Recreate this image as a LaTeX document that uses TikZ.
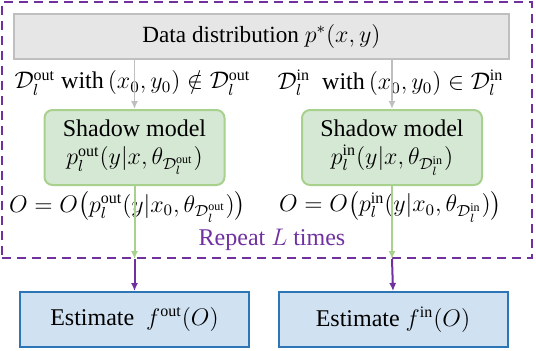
\documentclass[tikz,border=0pt]{standalone}
\usepackage{amsmath}
\usepackage{amssymb}
\usepackage{fontspec}
\setmainfont{Liberation Serif}
\usepackage{tikz}
\usetikzlibrary{
	arrows.meta,
	positioning,
	calc
}
\usepackage{xcolor}
\definecolor{framepurple}{HTML}{7030A0}
\definecolor{boxgray}{HTML}{E6E6E6}
\definecolor{edgegray}{HTML}{BFBFBF}
\definecolor{shadowfill}{HTML}{D5E8D4}
\definecolor{shadowedge}{HTML}{A9D18E}
\definecolor{estfill}{HTML}{D0E1F2}
\definecolor{estedge}{HTML}{2E75B6}

\begin{document}
\begin{tikzpicture}[x=0.5pt,y=0.5pt,>={Latex[length=4pt,width=3.6pt]},
		shadowbox/.style={draw=shadowedge,fill=shadowfill,line width=1pt,rounded corners=4pt,
			minimum width=90pt,minimum height=37.5pt,align=center,inner sep=1pt},
		estbox/.style={draw=estedge,fill=estfill,line width=1pt,
			minimum width=114.5pt,minimum height=27.5pt}]
		\fontsize{12}{14}\selectfont
		
		\useasboundingbox (0,0) rectangle (536,350);
		
		%---------------- Repeat frame ----------------%
		
		\node[draw=framepurple,line width=1pt,dash pattern=on 4.5pt off 3pt,
		minimum width=265pt,minimum height=128pt] (frame) at (267,220) {};
		
		\node[draw=edgegray,fill=boxgray,line width=1.2pt,minimum width=247.5pt,minimum height=22.5pt,
		font=\fontsize{11.6}{13}\selectfont] (dist) at (261.5,313.5)
		{Data distribution $p^{*}(x,y)$};
		
		\node (lblout) at (132.5,267)
		{$\mathcal{D}_l^{\mathrm{out}}\ \mathrm{with}\,(x_0,y_0)\notin\mathcal{D}_l^{\mathrm{out}}$};
		\node (lblin) at (390.5,267)
		{$\mathcal{D}_l^{\mathrm{in}}\ \ \mathrm{with}\,(x_0,y_0)\in\mathcal{D}_l^{\mathrm{in}}$};
		
		\node[shadowbox] (shout) at (134.5,202.5)
		{Shadow model\\ $p_l^{\mathrm{out}}(y|x,\theta_{\mathcal{D}_l^{\mathrm{out}}})$};
		\node[shadowbox] (shin) at (392,202.5)
		{Shadow model\\ $p_l^{\mathrm{in}}(y|x,\theta_{\mathcal{D}_l^{\mathrm{in}}})$};
		
		\draw[->,edgegray,line width=0.8pt] (shout.north |- dist.south)--(shout.north);
		\draw[->,edgegray,line width=0.8pt] (shin.north |- dist.south)--(shin.north);
		
		\node[inner sep=1pt] (obsout) at (127.5,143)
		{$O=O\big(p_l^{\mathrm{out}}(y|x_0,\theta_{\mathcal{D}_l^{\mathrm{out}}})\big)$};
		\node[inner sep=1pt] (obsin) at (390.5,143)
		{$O=O\big(p_l^{\mathrm{in}}(y|x_0,\theta_{\mathcal{D}_l^{\mathrm{in}}})\big)$};
		
		\coordinate (gateout) at (shout.south |- frame.south);
		\coordinate (gatein) at (shin.south |- frame.south);
		
		% green lines run over the formulas
		\draw[->,shadowedge,line width=1pt] (shout.south)--(gateout);
		\draw[->,shadowedge,line width=1pt] (shin.south)--(gatein);
		
		\node[text=framepurple] (repeat) at (272,110) {Repeat $L$ times};
		
		%---------------- Estimates ----------------%
		
		\node[estbox] (estout) at (134.5,30.5) {Estimate~ $f^{\mathrm{out}}(O)$};
		\node[estbox] (estin) at (393,30.5) {Estimate~$f^{\mathrm{in}}(O)$};
		
		\draw[->,framepurple,line width=1pt] (gateout)--(estout.north);
		\draw[->,framepurple,line width=1pt] (gatein)--(estin.north);
		
	\end{tikzpicture}
\end{document}
